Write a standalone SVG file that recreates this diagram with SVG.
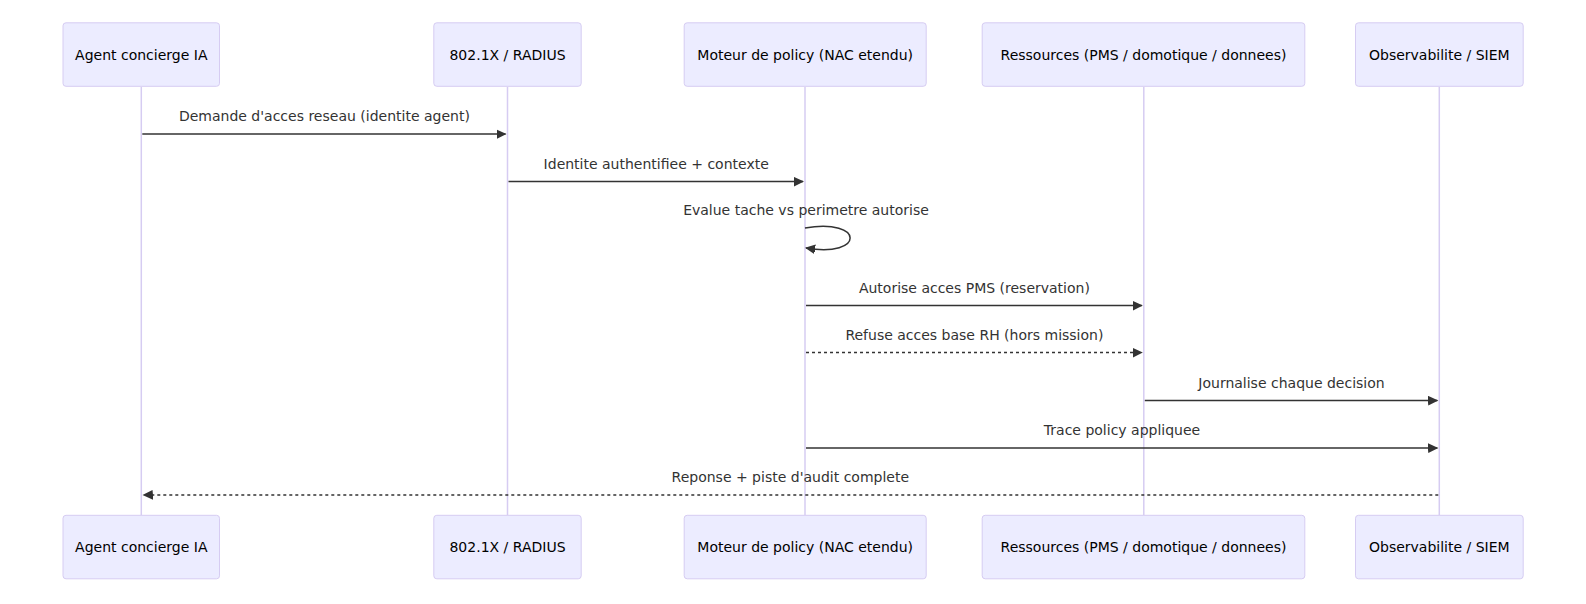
<svg xmlns="http://www.w3.org/2000/svg" width="1586" height="604" viewBox="0 0 1586 604">
<style>
.actor{fill:#ECECFF;stroke:#D6CCF2;stroke-width:1}
.atext{font-family:"DejaVu Sans",Verdana,sans-serif;font-size:14px;fill:#000;text-anchor:middle;dominant-baseline:central}
.lifeline{stroke:#D6CCF2;stroke-width:1.5;fill:none}
.msg{stroke:#333;stroke-width:1.5;fill:none}
.dash{stroke-dasharray:3,3}
.mtext{font-family:"DejaVu Sans",Verdana,sans-serif;font-size:14px;fill:#333;text-anchor:middle;dominant-baseline:central}
</style>
<defs>
<marker id="arrowhead" refX="9" refY="5" markerUnits="userSpaceOnUse" markerWidth="12" markerHeight="12" orient="auto-start-reverse">
<path d="M -1 0 L 10 5 L 0 10 z" fill="#333"/>
</marker>
</defs>
<rect width="1586" height="604" fill="#fff"/>
<g id="lifelines">
<line class="lifeline" x1="141.3" y1="87" x2="141.3" y2="515"/>
<line class="lifeline" x1="507.5" y1="87" x2="507.5" y2="515"/>
<line class="lifeline" x1="805" y1="87" x2="805" y2="515"/>
<line class="lifeline" x1="1143.8" y1="87" x2="1143.8" y2="515"/>
<line class="lifeline" x1="1439.3" y1="87" x2="1439.3" y2="515"/>
</g>
<g id="agent">
<rect class="actor" x="63" y="22.8" width="156.5" height="63.5" rx="3"/>
<text class="atext" x="141.3" y="54.5">Agent concierge IA</text>
<rect class="actor" x="63" y="515.3" width="156.5" height="63.5" rx="3"/>
<text class="atext" x="141.3" y="547">Agent concierge IA</text>
</g>
<g id="radius">
<rect class="actor" x="433.8" y="22.8" width="147.4" height="63.5" rx="3"/>
<text class="atext" x="507.5" y="54.5">802.1X / RADIUS</text>
<rect class="actor" x="433.8" y="515.3" width="147.4" height="63.5" rx="3"/>
<text class="atext" x="507.5" y="547">802.1X / RADIUS</text>
</g>
<g id="policy">
<rect class="actor" x="684.2" y="22.8" width="242" height="63.5" rx="3"/>
<text class="atext" x="805.2" y="54.5">Moteur de policy (NAC etendu)</text>
<rect class="actor" x="684.2" y="515.3" width="242" height="63.5" rx="3"/>
<text class="atext" x="805.2" y="547">Moteur de policy (NAC etendu)</text>
</g>
<g id="ressources">
<rect class="actor" x="982.2" y="22.8" width="322.6" height="63.5" rx="3"/>
<text class="atext" x="1143.5" y="54.5">Ressources (PMS / domotique / donnees)</text>
<rect class="actor" x="982.2" y="515.3" width="322.6" height="63.5" rx="3"/>
<text class="atext" x="1143.5" y="547">Ressources (PMS / domotique / donnees)</text>
</g>
<g id="siem">
<rect class="actor" x="1355.5" y="22.8" width="167.7" height="63.5" rx="3"/>
<text class="atext" x="1439.3" y="54.5">Observabilite / SIEM</text>
<rect class="actor" x="1355.5" y="515.3" width="167.7" height="63.5" rx="3"/>
<text class="atext" x="1439.3" y="547">Observabilite / SIEM</text>
</g>
<g id="connectors">
<line class="msg" x1="142.3" y1="134" x2="505.5" y2="134" marker-end="url(#arrowhead)"/>
<text class="mtext" x="324.4" y="116.3">Demande d'acces reseau (identite agent)</text>
<line class="msg" x1="508.5" y1="181.5" x2="803" y2="181.5" marker-end="url(#arrowhead)"/>
<text class="mtext" x="656.2" y="163.5">Identite authentifiee + contexte</text>
<path class="msg" d="M 805,228 C 865,218 865,258 806,248" marker-end="url(#arrowhead)"/>
<text class="mtext" x="806" y="210.3">Evalue tache vs perimetre autorise</text>
<line class="msg" x1="806" y1="305.5" x2="1141.8" y2="305.5" marker-end="url(#arrowhead)"/>
<text class="mtext" x="974.4" y="287.5">Autorise acces PMS (reservation)</text>
<line class="msg dash" x1="806" y1="352.5" x2="1141.8" y2="352.5" marker-end="url(#arrowhead)"/>
<text class="mtext" x="974.4" y="334.8">Refuse acces base RH (hors mission)</text>
<line class="msg" x1="1144.8" y1="400.5" x2="1437.3" y2="400.5" marker-end="url(#arrowhead)"/>
<text class="mtext" x="1291.5" y="382.5">Journalise chaque decision</text>
<line class="msg" x1="806" y1="448" x2="1437.3" y2="448" marker-end="url(#arrowhead)"/>
<text class="mtext" x="1122" y="430">Trace policy appliquee</text>
<line class="msg dash" x1="1438.3" y1="495" x2="143.5" y2="495" marker-end="url(#arrowhead)"/>
<text class="mtext" x="790.3" y="477">Reponse + piste d'audit complete</text>
</g>
</svg>
